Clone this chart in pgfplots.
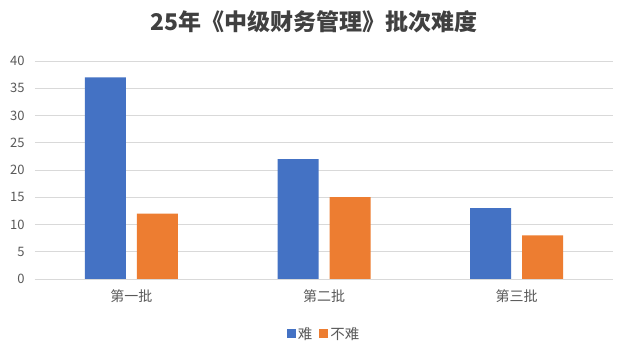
\documentclass[border=0pt]{standalone}
\usepackage{pgfplots}
\pgfplotsset{compat=1.18}
\usepackage{fontspec}
\setmainfont{Noto Sans CJK SC}
\definecolor{cblue}{HTML}{4472C4}
\definecolor{corange}{HTML}{ED7D31}
\definecolor{ctick}{HTML}{595959}
\definecolor{cgrid}{HTML}{D9D9D9}
\definecolor{ctitle}{HTML}{404040}
\begin{document}
\begin{tikzpicture}
\useasboundingbox[fill=white] (-35pt,-74pt) rectangle (592pt,279pt);
\begin{axis}[
  at={(0,0)}, anchor=south west,
  scale only axis, width=578pt, height=218pt,
  ybar=11pt, bar width=41pt,
  xmin=-0.5, xmax=2.5, ymin=0, ymax=40,
  xtick={0,1,2}, xticklabels={第一批,第二批,第三批},
  ytick={0,5,...,40},
  ymajorgrids, grid style={cgrid, line width=0.7pt},
  axis x line*=bottom, axis y line*=left,
  x axis line style={draw=cgrid, line width=0.8pt, -},
  y axis line style={draw=none},
  major tick length=0pt,
  yticklabel style={color=ctick, font=\fontsize{13}{15}\selectfont, xshift=-7pt},
  xticklabel style={color=ctick, font=\fontsize{14}{16}\selectfont, yshift=-7pt},
  /pgf/number format/assume math mode=true,
  legend style={at={(0.5,-55pt)}, anchor=center, draw=none, font=\fontsize{14.5}{16}\selectfont, text=ctick, legend columns=-1, /tikz/every even column/.append style={column sep=5pt}},
  legend image code/.code={\fill[#1] (0pt,-4.5pt) rectangle (9pt,4.5pt);},
]
\addplot[fill=cblue, draw=none] coordinates {(0,37) (1,22) (2,13)};
\addplot[fill=corange, draw=none] coordinates {(0,12) (1,15) (2,8)};
\legend{难,不难}
\end{axis}
\node[font=\bfseries\fontsize{23}{25}\selectfont, text=ctitle] at (279pt,257pt) {25年《中级财务管理》批次难度};
\end{tikzpicture}
\end{document}
